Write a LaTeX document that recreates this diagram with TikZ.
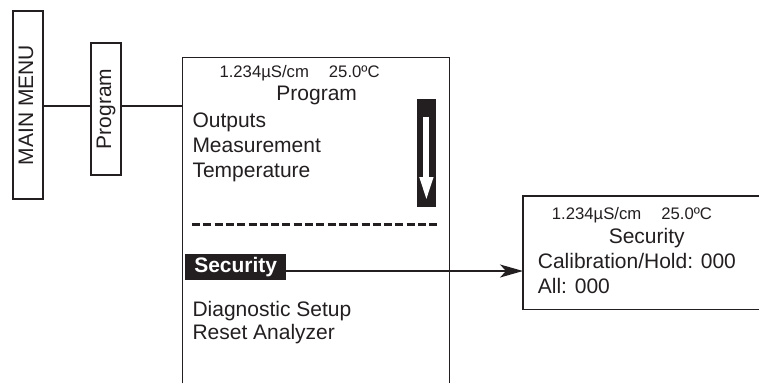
\documentclass[tikz,border=0pt]{standalone}
\usepackage{fontspec}
\setmainfont{Liberation Sans}
\usetikzlibrary{arrows.meta}
\definecolor{encre}{HTML}{231F20}
\begin{document}
\begin{tikzpicture}[x=1pt,y=-1pt]
\tikzset{boite/.style={draw=encre, line width=1.3pt, inner sep=0pt, text=encre, font=\fontsize{21}{25}\selectfont},
ecran/.style={inner sep=0pt, anchor=north west},
fil/.style={draw=encre, line width=1.3pt},
texte/.style={anchor=base west, inner sep=0pt, text=encre, font=\fontsize{21}{25}\selectfont},
petit/.style={texte, font=\fontsize{16.7}{20}\selectfont}}
\useasboundingbox (0,0) rectangle (759,383);
\node[boite, minimum width=30pt, minimum height=188pt] (MM) at (28,105) {\rotatebox{90}{MAIN MENU\strut}};
\node[boite, minimum width=30pt, minimum height=132pt] (P) at (106,109) {\rotatebox{90}{Program}};
\node[ecran, minimum width=266.6pt, minimum height=325.7pt] (E1) at (182.7,57.3) {};
\node[ecran, minimum width=236pt, minimum height=113pt] (E2) at (523,196) {};
\draw[fil] (E1.south west) -- (E1.north west) -- (E1.north east) -- (E1.south east);
\draw[fil] (E2.north east) -- (E2.north west) -- (E2.south west) -- (E2.south east);
\coordinate (L) at (0,106);
\draw[fil] (MM.east |- L) -- (P.west |- L);
\draw[fil] (P.east |- L) -- (E1.west |- L);
\node[petit] (E1a) at (219.3,77.5) {1.234µS/cm\hspace{20pt}25.0ºC};
\node[texte, anchor=base] (E1b) at (316.7,100) {Program};
\node[texte] (E1c) at (192.3,127) {Outputs};
\node[texte] (E1d) at (192.3,152) {Measurement};
\node[texte] (E1e) at (192.3,177) {Temperature};
\node[ecran, fill=encre, minimum width=19pt, minimum height=107.7pt] (D) at (416.7,99) {};
\draw[white, line width=6pt, -{Triangle[length=25pt, width=12pt]}] ([yshift=-17.7pt]D.north) -- ([yshift=5pt]D.south);
\draw[encre, line width=3pt, dash pattern=on 8pt off 3.3pt] (192,224) -- (440,224);
\node[ecran, fill=encre, text=white, font=\bfseries\fontsize{21}{25}\selectfont, minimum width=101pt, minimum height=26.7pt] (S) at (185,253.3) {Security};
\node[texte] (E1f) at (192.3,316) {Diagnostic Setup};
\node[texte] (E1g) at (192.3,339) {Reset Analyzer};
\coordinate (F) at (0,271);
\draw[fil, -{Stealth[length=23pt, width=13pt, inset=6pt]}] (S.east |- F) -- (E2.west |- F);
\node[petit] (E2a) at (551.7,219.3) {1.234µS/cm\hspace{20pt}25.0ºC};
\node[texte, anchor=base] (E2b) at (646.7,243.3) {Security};
\node[texte] (E2c) at (537.7,268.3) {Calibration/Hold: 000};
\node[texte] (E2d) at (537.7,293.3) {All: 000};
\end{tikzpicture}
\end{document}
